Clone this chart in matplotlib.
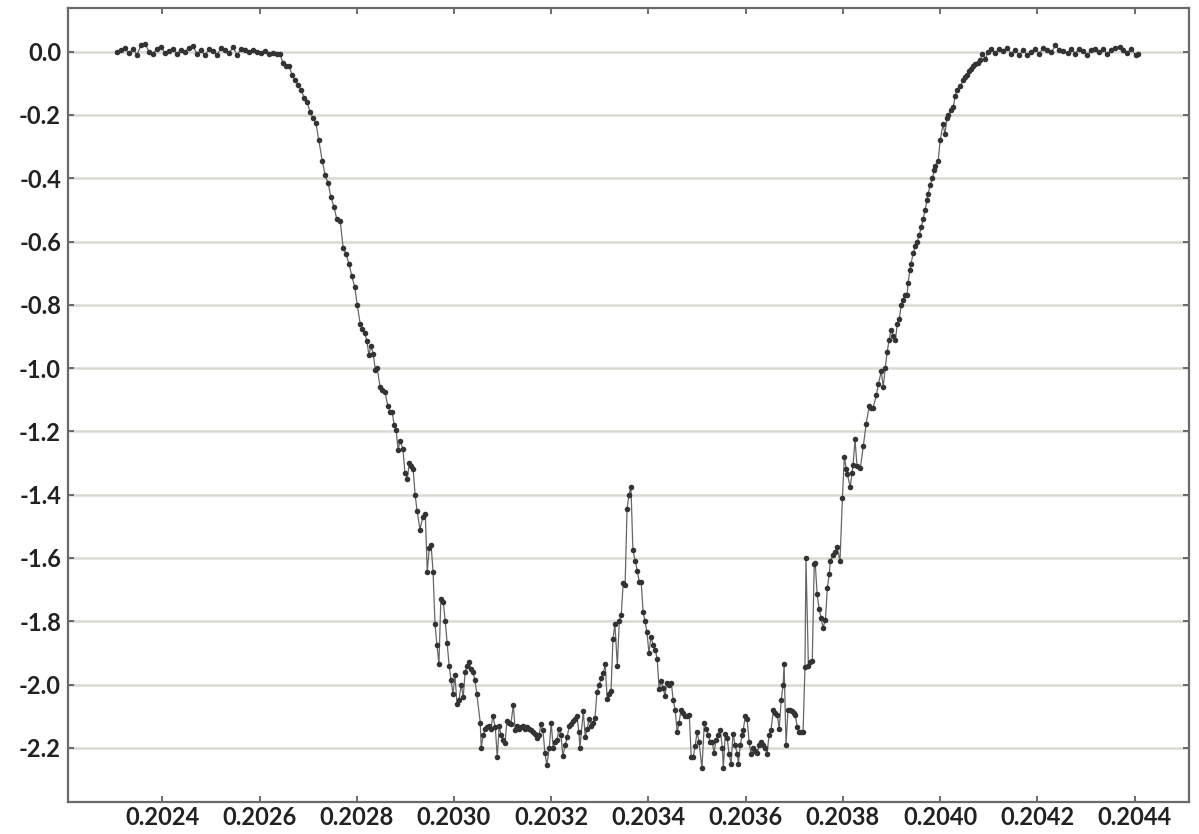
import numpy as np
import matplotlib
matplotlib.use("Agg")
import matplotlib.pyplot as plt

# Phase values are stored in units of 1e-6 above 0.2, relative flux in mag-like units.
# Out-of-transit baseline before ingress
pre_phase = [2307, 2315, 2323, 2331, 2340, 2348, 2356, 2364, 2373, 2381,
             2389, 2397, 2406, 2414, 2422, 2430, 2438, 2447, 2455, 2463,
             2471, 2480, 2488, 2496, 2504, 2513, 2521, 2529, 2537, 2546,
             2554, 2562, 2570, 2578, 2587, 2595, 2603, 2611, 2620, 2628,
             2636]
pre_flux = [0.000, 0.005, 0.012, -0.005, 0.008, -0.010, 0.020, 0.025, 0.000, -0.008,
            0.010, 0.015, -0.005, 0.003, 0.010, -0.008, 0.005, 0.000, 0.012, 0.018,
            -0.006, 0.004, -0.012, 0.008, 0.002, -0.010, 0.012, 0.006, -0.004, 0.014,
            -0.012, 0.010, 0.004, -0.002, 0.006, 0.000, -0.004, 0.002, -0.006, -0.004,
            -0.006]

# Ingress
ing_phase = [2642, 2648, 2654, 2661, 2667, 2673, 2679, 2685, 2692, 2698,
             2704, 2710, 2716, 2722, 2729, 2735, 2741, 2747, 2753, 2759,
             2766, 2772, 2778, 2784, 2790, 2796, 2801, 2807, 2811, 2817,
             2821, 2825, 2829, 2834, 2838, 2842, 2848, 2852, 2858, 2864,
             2869, 2873, 2877, 2881, 2885, 2889, 2895, 2899, 2904, 2908,
             2912, 2916, 2920, 2924, 2930, 2936, 2941, 2945, 2949, 2953,
             2957, 2961, 2965, 2969, 2973, 2978, 2982, 2986, 2990, 2994,
             2998, 3002, 3006, 3010, 3015, 3019, 3023, 3027, 3031, 3035,
             3039, 3043, 3047]
ing_flux = [-0.006, -0.035, -0.045, -0.045, -0.075, -0.09, -0.105, -0.12, -0.145, -0.16,
            -0.19, -0.21, -0.225, -0.28, -0.345, -0.39, -0.415, -0.46, -0.49, -0.53,
            -0.535, -0.62, -0.64, -0.67, -0.71, -0.745, -0.80, -0.86, -0.875, -0.89,
            -0.915, -0.96, -0.93, -0.955, -1.005, -1.0, -1.06, -1.07, -1.075, -1.12,
            -1.14, -1.14, -1.18, -1.195, -1.26, -1.23, -1.255, -1.33, -1.35, -1.30,
            -1.31, -1.32, -1.40, -1.45, -1.51, -1.47, -1.46, -1.645, -1.57, -1.56,
            -1.645, -1.81, -1.875, -1.935, -1.73, -1.74, -1.80, -1.87, -1.94, -1.985,
            -2.03, -1.97, -2.06, -2.05, -2.00, -2.04, -1.96, -1.94, -1.93, -1.95,
            -1.96, -1.985, -2.03]

# First half of the transit floor
floor1_phase = [3054, 3056, 3060, 3064, 3068, 3072, 3076, 3080, 3085, 3089,
                3093, 3097, 3101, 3105, 3109, 3113, 3117, 3122, 3126, 3130,
                3134, 3138, 3142, 3146, 3150, 3154, 3159, 3163, 3167, 3171,
                3175, 3179, 3183, 3187, 3191, 3196, 3200, 3204, 3208, 3212,
                3216, 3220, 3224, 3229, 3233, 3237, 3241, 3245, 3249, 3253,
                3257, 3259, 3266, 3270, 3274, 3278, 3282, 3286, 3290, 3294]
floor1_flux = [-2.12, -2.2, -2.16, -2.14, -2.135, -2.13, -2.14, -2.10, -2.135, -2.23,
               -2.13, -2.16, -2.175, -2.185, -2.115, -2.12, -2.125, -2.065, -2.145, -2.13,
               -2.14, -2.135, -2.13, -2.14, -2.135, -2.14, -2.145, -2.15, -2.155, -2.17,
               -2.16, -2.125, -2.145, -2.215, -2.255, -2.20, -2.12, -2.2, -2.18, -2.175,
               -2.14, -2.16, -2.225, -2.19, -2.165, -2.13, -2.125, -2.115, -2.11, -2.10,
               -2.15, -2.2, -2.085, -2.165, -2.14, -2.11, -2.13, -2.12, -2.105, -2.025]

# Central brightening
bump_phase = [3299, 3303, 3307, 3311, 3315, 3319, 3323, 3327, 3331, 3336,
              3340, 3344, 3348, 3352, 3356, 3360, 3364, 3368, 3373, 3377,
              3381, 3385, 3389, 3393, 3397, 3401, 3405, 3410, 3414, 3418,
              3422, 3426, 3430, 3434, 3438, 3443, 3447, 3451, 3455, 3459]
bump_flux = [-2.0, -1.98, -1.965, -1.935, -2.045, -2.03, -2.02, -1.855, -1.81, -1.94,
             -1.80, -1.78, -1.68, -1.685, -1.445, -1.40, -1.375, -1.575, -1.61, -1.64,
             -1.675, -1.675, -1.77, -1.80, -1.835, -1.9, -1.85, -1.875, -1.89, -1.92,
             -2.015, -1.99, -2.01, -2.035, -1.995, -2.00, -1.995, -2.05, -2.08, -2.15]

# Second half of the transit floor
floor2_phase = [3463, 3467, 3471, 3475, 3480, 3484, 3488, 3492, 3496, 3500,
                3504, 3510, 3515, 3519, 3523, 3527, 3531, 3535, 3539, 3543,
                3548, 3552, 3554, 3558, 3562, 3566, 3570, 3574, 3578, 3583,
                3585, 3589, 3593, 3595, 3599, 3603, 3607, 3611, 3615, 3620,
                3624, 3628, 3632, 3636, 3640, 3644, 3648, 3652, 3657, 3661,
                3665, 3669, 3673, 3677, 3679, 3683, 3687, 3692, 3696, 3700,
                3702, 3706, 3710, 3714, 3718]
floor2_flux = [-2.12, -2.08, -2.09, -2.10, -2.10, -2.095, -2.23, -2.23, -2.195, -2.15,
               -2.18, -2.265, -2.12, -2.14, -2.16, -2.18, -2.18, -2.215, -2.175, -2.16,
               -2.145, -2.20, -2.265, -2.155, -2.17, -2.22, -2.25, -2.155, -2.19, -2.22,
               -2.25, -2.19, -2.16, -2.145, -2.10, -2.11, -2.18, -2.22, -2.2, -2.21,
               -2.215, -2.19, -2.18, -2.19, -2.20, -2.22, -2.16, -2.145, -2.08, -2.09,
               -2.095, -2.14, -2.05, -2.00, -1.935, -2.19, -2.08, -2.08, -2.085, -2.09,
               -2.095, -2.135, -2.15, -2.15, -2.15]

# Egress
egr_phase = [3722, 3724, 3729, 3733, 3737, 3741, 3743, 3747, 3751, 3755,
             3759, 3764, 3768, 3772, 3774, 3780, 3784, 3788, 3794, 3799,
             3803, 3807, 3809, 3815, 3819, 3821, 3825, 3829, 3836, 3842,
             3848, 3854, 3858, 3862, 3869, 3873, 3879, 3883, 3887, 3891,
             3895, 3899, 3904, 3908, 3912, 3916, 3920, 3924, 3928, 3932,
             3934, 3938, 3940, 3945, 3949, 3953, 3957, 3961, 3965, 3969,
             3973, 3975, 3980, 3984, 3988, 3990, 3996, 4000, 4006, 4010,
             4014, 4017, 4023, 4027, 4031, 4035, 4041, 4048, 4052, 4056,
             4060, 4064, 4068, 4072, 4078, 4083, 4087, 4093, 4099]
egr_flux = [-1.945, -1.60, -1.94, -1.93, -1.925, -1.62, -1.615, -1.715, -1.76, -1.79,
            -1.82, -1.795, -1.695, -1.65, -1.61, -1.59, -1.58, -1.565, -1.61, -1.41,
            -1.28, -1.32, -1.335, -1.375, -1.33, -1.305, -1.225, -1.31, -1.315, -1.245,
            -1.175, -1.12, -1.125, -1.125, -1.085, -1.05, -1.01, -1.06, -1.00, -0.95,
            -0.91, -0.88, -0.90, -0.91, -0.86, -0.845, -0.80, -0.785, -0.77, -0.77,
            -0.73, -0.69, -0.67, -0.635, -0.615, -0.60, -0.58, -0.555, -0.53, -0.50,
            -0.47, -0.45, -0.42, -0.40, -0.375, -0.36, -0.345, -0.28, -0.23, -0.26,
            -0.21, -0.20, -0.185, -0.175, -0.14, -0.12, -0.11, -0.09, -0.08, -0.075,
            -0.06, -0.055, -0.045, -0.04, -0.035, -0.025, -0.006, -0.022, 0.0]

# Out-of-transit baseline after egress
post_phase = [4105, 4113, 4122, 4130, 4138, 4146, 4154, 4163, 4171, 4179,
              4187, 4196, 4204, 4212, 4220, 4229, 4237, 4245, 4253, 4262,
              4270, 4278, 4286, 4294, 4303, 4311, 4319, 4327, 4336, 4344,
              4352, 4360, 4369, 4377, 4385, 4393, 4402, 4406]
post_flux = [0.008, -0.004, 0.010, 0.002, 0.012, -0.006, 0.004, -0.010, 0.006, -0.012,
             0.000, 0.008, -0.006, 0.012, 0.004, -0.002, 0.020, 0.006, 0.002, -0.004,
             0.008, -0.006, 0.010, 0.002, -0.012, 0.006, 0.010, -0.002, 0.008, -0.008,
             0.004, 0.012, 0.016, 0.006, -0.004, 0.010, -0.012, -0.008]

x_ticks = [0.2024, 0.2026, 0.2028, 0.2030, 0.2032, 0.2034,
           0.2036, 0.2038, 0.2040, 0.2042, 0.2044]
y_ticks = [0.0, -0.2, -0.4, -0.6, -0.8, -1.0, -1.2, -1.4, -1.6, -1.8, -2.0, -2.2]


def main():
    phase_e6 = np.concatenate([pre_phase, ing_phase, floor1_phase, bump_phase,
                               floor2_phase, egr_phase, post_phase])
    flux = np.concatenate([pre_flux, ing_flux, floor1_flux, bump_flux,
                           floor2_flux, egr_flux, post_flux])
    phase = 0.2 + phase_e6 * 1e-6

    plt.rcParams['font.family'] = ['Lato', 'DejaVu Sans']

    fig = plt.figure(figsize=(11.99, 8.34), dpi=100)
    ax = fig.add_axes([0.0567, 0.0384, 0.935, 0.952])

    ax.plot(phase, flux, '-', color='#666666', linewidth=0.9, zorder=3)
    ax.plot(phase, flux, 'o', color='#333333', markersize=4.0,
            markeredgewidth=0, zorder=4)

    ax.set_xlim(0.202206, 0.204512)
    ax.set_ylim(-2.371, 0.138)
    ax.set_xticks(x_ticks)
    ax.set_xticklabels([f'{v:.4f}' for v in x_ticks])
    ax.set_yticks(y_ticks)
    ax.set_yticklabels([f'{v:.1f}' for v in y_ticks])

    ax.grid(True, axis='y', color='#dcd9d2', linewidth=1.8)
    ax.set_axisbelow(True)

    for spine in ax.spines.values():
        spine.set_color('#6a6a6a')
        spine.set_linewidth(1.6)

    ax.tick_params(axis='both', direction='in', length=4, width=1.2,
                   color='#555555', labelcolor='#222222', labelsize=17)
    ax.tick_params(axis='x', top=True, pad=3)
    ax.tick_params(axis='y', right=True, pad=5)
    for lbl in ax.get_xticklabels() + ax.get_yticklabels():
        lbl.set_fontweight('bold')

    fig.savefig('out.png', dpi=100)
    plt.close(fig)


if __name__ == '__main__':
    main()
